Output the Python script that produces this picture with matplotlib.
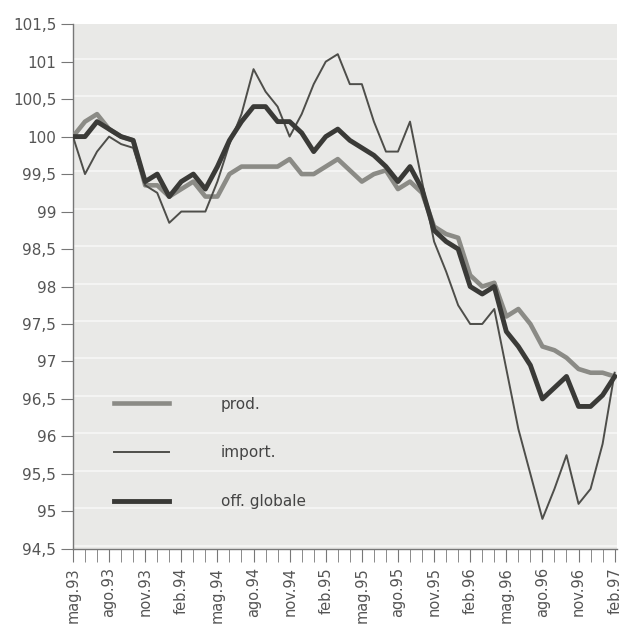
import matplotlib
matplotlib.use('Agg')
import matplotlib.pyplot as plt
from matplotlib.ticker import FuncFormatter, MultipleLocator

plt.rcParams['font.family'] = ['Liberation Sans Narrow', 'DejaVu Sans']

# monthly index, mag.93 .. feb.97
months = ['mag', 'giu', 'lug', 'ago', 'set', 'ott', 'nov', 'dic', 'gen', 'feb', 'mar', 'apr']
labels = []
for i in range(46):
    m = months[i % 12]
    yr = 93 + (i + 4) // 12
    labels.append(m + '.' + str(yr))

prod = [100.0, 100.2, 100.3, 100.1, 100.0, 99.95, 99.35, 99.35, 99.2, 99.3,
        99.4, 99.2, 99.2, 99.5, 99.6, 99.6, 99.6, 99.6, 99.7, 99.5,
        99.5, 99.6, 99.7, 99.55, 99.4, 99.5, 99.55, 99.3, 99.4, 99.25,
        98.8, 98.7, 98.65, 98.15, 98.0, 98.05, 97.6, 97.7, 97.5, 97.2,
        97.15, 97.05, 96.9, 96.85, 96.85, 96.8]
imp = [100.0, 99.5, 99.8, 100.0, 99.9, 99.85, 99.35, 99.25, 98.85, 99.0,
       99.0, 99.0, 99.4, 99.9, 100.3, 100.9, 100.6, 100.4, 100.0, 100.3,
       100.7, 101.0, 101.1, 100.7, 100.7, 100.2, 99.8, 99.8, 100.2, 99.4,
       98.6, 98.2, 97.75, 97.5, 97.5, 97.7, 96.9, 96.1, 95.5, 94.9,
       95.3, 95.75, 95.1, 95.3, 95.9, 96.85]
off = [100.0, 100.0, 100.2, 100.1, 100.0, 99.95, 99.4, 99.5, 99.2, 99.4,
       99.5, 99.3, 99.6, 99.95, 100.2, 100.4, 100.4, 100.2, 100.2, 100.05,
       99.8, 100.0, 100.1, 99.95, 99.85, 99.75, 99.6, 99.4, 99.6, 99.3,
       98.75, 98.6, 98.5, 98.0, 97.9, 98.0, 97.4, 97.2, 96.95, 96.5,
       96.65, 96.8, 96.4, 96.4, 96.55, 96.8]

x = list(range(len(labels)))

fig = plt.figure(figsize=(6.29, 6.36), dpi=100)
ax = fig.add_axes([0.116, 0.137, 0.865, 0.825])
ax.set_facecolor('#e9e9e7')

# faint paper stripes
for yv in [94.5 + 0.5 * k for k in range(15)]:
    ax.axhline(yv + 0.04, color='#f6f6f5', lw=1.3, zorder=0)

ax.plot(x, prod, color='#8b8b86', lw=3.3, label='prod.', zorder=3)
ax.plot(x, imp, color='#4e4e4a', lw=1.4, label='import.', zorder=4)
ax.plot(x, off, color='#3a3a37', lw=3.5, label='off. globale', zorder=5)

ax.set_xlim(0, 45.2)
ax.set_ylim(94.5, 101.5)
ax.yaxis.set_major_locator(MultipleLocator(0.5))
ax.yaxis.set_major_formatter(FuncFormatter(lambda v, p: ('%g' % v).replace('.', ',')))

ax.set_xticks(x[::3])
ax.set_xticklabels(labels[::3], rotation=90)
ax.set_xticks(x, minor=True)

for s in ['top', 'right']:
    ax.spines[s].set_visible(False)
for s in ['left', 'bottom']:
    ax.spines[s].set_color('#777777')
    ax.spines[s].set_linewidth(1.0)

ax.tick_params(axis='y', length=9, color='#777777', labelcolor='#555555', labelsize=11, pad=3)
ax.tick_params(axis='x', which='both', length=9, color='#777777', labelcolor='#555555', labelsize=10.5, pad=4)

leg = ax.legend(loc='lower left', bbox_to_anchor=(0.05, 0.05), frameon=False,
                handlelength=3.6, handletextpad=3.4, labelspacing=2.2, fontsize=11)
for t in leg.get_texts():
    t.set_color('#444444')

plt.savefig('out.png', dpi=100, facecolor='white')
